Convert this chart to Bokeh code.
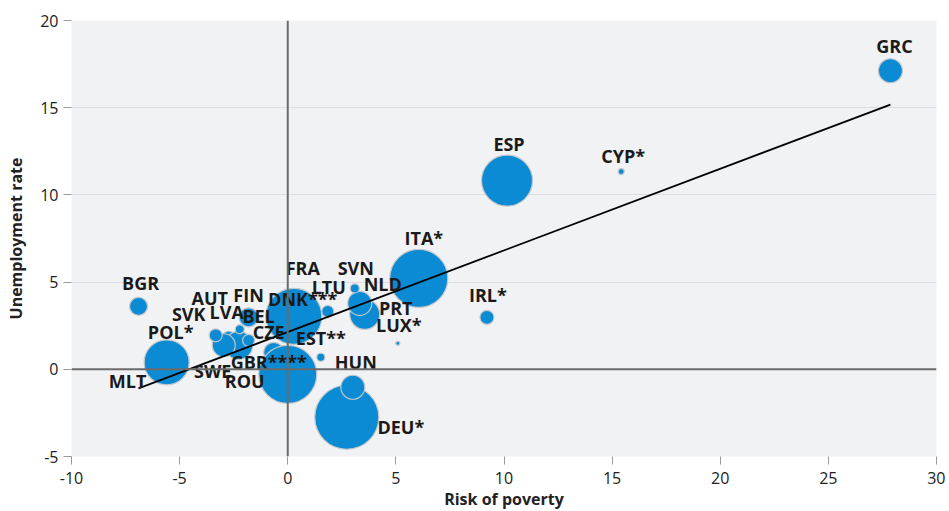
from bokeh.plotting import figure
from bokeh.models import ColumnDataSource, Span, FixedTicker
from bokeh.core.properties import value
from bokeh.embed import file_html
from bokeh.resources import INLINE

# ---- data ----
countries = ["MLT", "DNK***", "CZE", "AUT", "DEU*", "GBR****", "FRA", "ITA*", "ESP",
             "POL*", "PRT", "ROU", "SWE", "NLD", "HUN", "GRC", "BGR", "IRL*", "FIN",
             "SVK", "LVA", "BEL", "LTU", "SVN", "EST**", "CYP*", "LUX*"]
risk_of_poverty = [-5.88, 0.60, -0.65, -2.73, 2.73, 0.00, 0.28, 6.06, 10.14,
                   -5.60, 3.56, -2.27, -2.96, 3.33, 3.01, 27.87, -6.90, 9.21, -1.81,
                   -3.33, -2.22, -1.81, 1.85, 3.10, 1.53, 15.42, 5.09]
unemployment_rate = [0.17, 2.69, 0.97, 1.78, -2.75, -0.29, 3.04, 5.21, 10.82,
                     0.40, 3.15, 1.37, 1.38, 3.78, -1.03, 17.12, 3.61, 2.98, 2.98,
                     1.95, 2.29, 1.66, 3.32, 4.64, 0.69, 11.34, 1.49]
bubble_size = [10, 20, 20, 14, 64, 58, 56, 58, 51,
               45, 30, 28, 23, 24, 24, 24, 18, 14, 19,
               13, 9, 12, 12, 9, 8, 6, 4]
trend_x = [-6.90, 27.87]
trend_y = [-1.09, 15.18]
x_ticks = [-10, -5, 0, 5, 10, 15, 20, 25, 30]
y_ticks = [-5, 0, 5, 10, 15, 20]

# label placement (screen px offsets from bubble centre)
label_dx = [-33, 2, -5, -19, 54, -19, 9, 5, 2,
            4, 31, 6, -11, 23, 3, 4, 2, 1, 0,
            -27, -13, 10, 1, 1, 0, 2, 1]
label_dy = [15, -23, -20, -40, 10, -12, -48, -40, -37,
            -30, -6, 36, 26, -19, -25, -25, -23, -22, -22,
            -21, -17, -24, -24, -20, -19, -16, -18]

src = ColumnDataSource(dict(x=risk_of_poverty, y=unemployment_rate, s=bubble_size,
                            name=countries, dx=label_dx, dy=label_dy))

p = figure(width=945, height=511, frame_width=865, frame_height=436,
           output_backend="svg", toolbar_location=None,
           x_range=(-10, 30), y_range=(-5, 20),
           min_border_left=71, min_border_top=20, min_border_right=9, min_border_bottom=10)
p.background_fill_color = "#f1f2f4"
p.border_fill_color = "white"
p.outline_line_color = None

p.xgrid.visible = False
p.ygrid.grid_line_color = "#dcdde0"
p.ygrid.grid_line_width = 1

for ax in (p.xaxis[0], p.yaxis[0]):
    ax.axis_line_color = None
    ax.major_tick_line_color = "#9a9a9a"
    ax.major_tick_out = 8
    ax.major_tick_in = 0
    ax.minor_tick_line_color = None
    ax.major_label_text_font = "Open Sans"
    ax.major_label_text_font_size = "16px"
    ax.major_label_text_color = "#222222"
    ax.axis_label_text_font = "Open Sans"
    ax.axis_label_text_font_style = "bold"
    ax.axis_label_text_font_size = "16px"
    ax.axis_label_text_color = "#222222"

p.xaxis.ticker = FixedTicker(ticks=x_ticks)
p.yaxis.ticker = FixedTicker(ticks=y_ticks)
p.xaxis.major_label_overrides = {t: str(t) for t in x_ticks}
p.yaxis.major_label_overrides = {t: str(t) for t in y_ticks}
p.xaxis.axis_label = "Risk of poverty"
p.yaxis.axis_label = "Unemployment rate"
p.xaxis.major_label_standoff = 7
p.xaxis.axis_label_standoff = 1
p.yaxis.major_label_standoff = 5
p.yaxis.axis_label_standoff = 10

p.add_layout(Span(location=0, dimension="width", line_color="#6b6b6b", line_width=2))
p.add_layout(Span(location=0, dimension="height", line_color="#6b6b6b", line_width=2))

p.scatter("x", "y", size="s", source=src, marker="circle",
          fill_color="#0a8bd3", line_color="#c4c7cc", line_width=1.2)

p.line(trend_x, trend_y, line_color="black", line_width=1.8)

p.text("x", "y", text="name", source=src, x_offset="dx", y_offset="dy",
       text_align="center", text_baseline="middle",
       text_font=value("Open Sans"), text_font_style="bold",
       text_font_size="18px", text_color="#1a1a1a")

open("out.html", "w").write(file_html(p, INLINE))
